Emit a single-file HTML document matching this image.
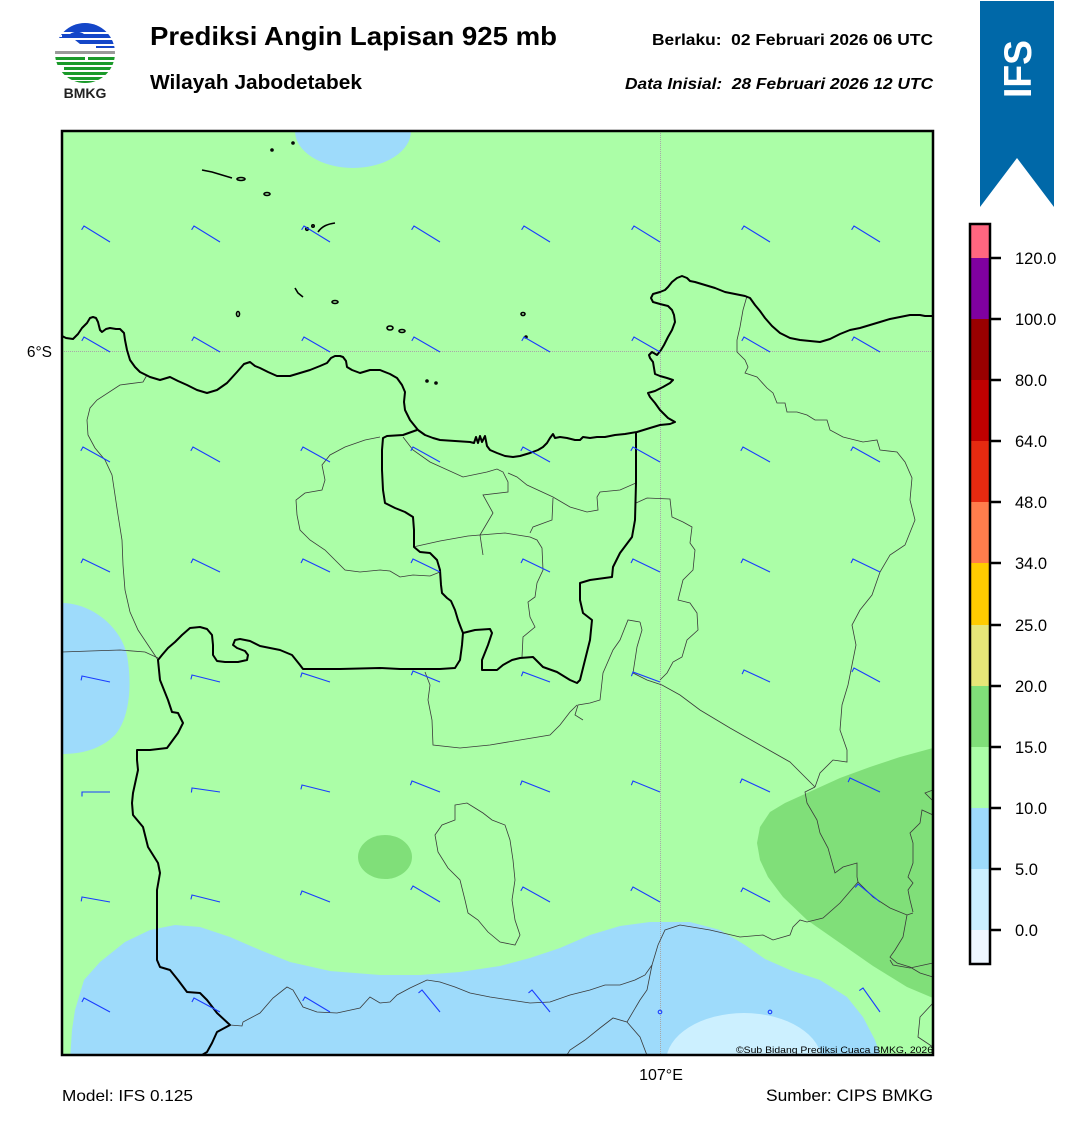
<!DOCTYPE html>
<html><head><meta charset="utf-8"><style>
html,body{margin:0;padding:0;background:#fff;}
svg{display:block;font-family:"Liberation Sans",Arial,sans-serif;}
</style></head><body>
<svg width="1081" height="1128" viewBox="0 0 1081 1128" xmlns="http://www.w3.org/2000/svg">
<defs>
<clipPath id="mapclip"><rect x="62" y="131" width="871" height="924"/></clipPath>
<clipPath id="logoclip"><circle cx="85" cy="53" r="30"/></clipPath>
</defs>

<!-- Logo -->
<g clip-path="url(#logoclip)">
<rect x="55" y="23" width="60" height="60" fill="#fff"/>
<rect x="55" y="22" width="60" height="10" fill="#1446c8"/>
<path d="M55,34 L70,34 C74,31 80,31 84,34 L115,34 L115,38 L55,38 Z" fill="#1446c8"/>
<path d="M55,35 L62,35 L62,37 L55,37 Z" fill="#fff"/>
<path d="M75,40 L115,40 L115,44 L80,44 Z" fill="#1446c8"/>
<rect x="96" y="46" width="19" height="2" fill="#1446c8"/>
<rect x="55" y="51" width="60" height="3" fill="#9a9a9a"/>
<rect x="55" y="57" width="30" height="3" fill="#1a9a2a"/>
<rect x="88" y="57" width="27" height="3" fill="#1a9a2a"/>
<rect x="55" y="62" width="60" height="3" fill="#1a9a2a"/>
<rect x="64" y="67" width="51" height="3" fill="#1a9a2a"/>
<rect x="55" y="72" width="60" height="3" fill="#1a9a2a"/>
<rect x="66" y="77" width="49" height="3" fill="#1a9a2a"/>
<rect x="70" y="81" width="40" height="3" fill="#1a9a2a"/>
</g>
<text x="85" y="98" font-size="14" font-weight="bold" text-anchor="middle" fill="#222">BMKG</text>

<!-- Titles -->
<text x="150" y="45" font-size="26" font-weight="bold" fill="#000" textLength="407" lengthAdjust="spacingAndGlyphs">Prediksi Angin Lapisan 925 mb</text>
<text x="150" y="89" font-size="20" font-weight="bold" fill="#000" textLength="212" lengthAdjust="spacingAndGlyphs">Wilayah Jabodetabek</text>
<text x="652" y="45" font-size="15.5" font-weight="bold" fill="#000" textLength="281" lengthAdjust="spacingAndGlyphs" xml:space="preserve">Berlaku:  02 Februari 2026 06 UTC</text>
<text x="625" y="89" font-size="15.5" font-weight="bold" font-style="italic" fill="#000" textLength="308" lengthAdjust="spacingAndGlyphs" xml:space="preserve">Data Inisial:  28 Februari 2026 12 UTC</text>

<!-- IFS banner -->
<polygon points="980,1 1054,1 1054,207 1017,158 980,207" fill="#0068a8"/>
<text transform="translate(1031,69) rotate(-90)" x="0" y="0" font-size="39" font-weight="bold" fill="#fff" text-anchor="middle" textLength="58" lengthAdjust="spacingAndGlyphs">IFS</text>

<!-- Map -->
<g clip-path="url(#mapclip)">
<rect x="62" y="131" width="871" height="924" fill="#abfea7"/>
<ellipse cx="353" cy="131" rx="58" ry="37" fill="#9edbfb"/>
<path d="M62,603 C90,603 120,625 127,655 C133,690 128,720 115,735 C100,750 80,754 62,754 Z" fill="#9edbfb"/>
<path d="M70,1060 L72,1030 L75,1010 L84,980 L100,962 L125,942 L150,930 L175,925 L200,927 L230,937 L260,950 L290,962 L330,971 L380,975 L420,975 L460,972 L500,966 L530,958 L560,948 L590,935 L620,926 L650,922 L690,922 L720,930 L745,945 L765,959 L790,970 L820,980 L847,997 L863,1017 L875,1040 L882,1060 Z" fill="#9edbfb"/>
<ellipse cx="744" cy="1062" rx="78" ry="49" fill="#ccf0ff"/>
<path d="M933,748 L900,757 L870,767 L840,778 L807,793 L785,803 L770,812 L760,827 L757,843 L760,860 L768,877 L783,897 L807,920 L840,943 L873,966 L907,987 L933,998 Z" fill="#80df79"/>
<ellipse cx="385" cy="857" rx="27" ry="22" fill="#80df79"/>

<!-- grid -->
<line x1="660.5" y1="131" x2="660.5" y2="1055" stroke="#a8a8a8" stroke-width="1" stroke-dasharray="1,1"/>
<line x1="62" y1="351.5" x2="933" y2="351.5" stroke="#a8a8a8" stroke-width="1" stroke-dasharray="1,1"/>

<!-- thin district boundaries -->
<g fill="none" stroke="#3a3a3a" stroke-width="0.8">
<path d="M147,375 L143,382 L120,385 L97,400 L90,408 L87,420 L88,435 L95,448 L105,460 L112,475 L115,495 L118,515 L122,540 L123,565 L125,590 L130,612 L138,630 L148,645 L158,660"/>
<path d="M62,652 L90,651 L120,650 L145,652 L158,658"/>
<path d="M380,437 L365,440 L345,447 L330,455 L322,465 L325,480 L322,490 L305,493 L296,500 L297,515 L300,530 L310,540 L325,550 L335,560 L345,570 L360,572 L380,570 L390,571 L400,577 L413,575 L430,576 L440,572"/>
<path d="M403,437 L413,450 L430,462 L463,477 L487,472 L497,469 L503,472 L508,482 L508,492 L483,495 L493,513 L480,535 L483,555"/>
<path d="M480,535 L468,536 L440,541 L413,547"/>
<path d="M480,535 L505,533 L530,537 L537,540 L542,548 L543,570 L537,583 L535,597 L528,602 L530,617 L535,627 L523,637 L522,657"/>
<path d="M508,473 L517,477 L527,485 L553,497 L570,507 L587,512 L598,510 L597,497 L600,492 L620,490 L636,483"/>
<path d="M553,498 L552,520 L533,527 L530,533"/>
<path d="M636,503 L647,498 L670,499 L672,517 L683,522 L692,527 L690,543 L695,550 L693,570 L683,580 L678,600 L690,603 L697,613 L698,630 L687,640 L682,657 L673,662 L667,673 L660,680"/>
<path d="M640,622 L628,620 L620,640 L613,650 L603,673 L600,700 L590,703 L578,705 L575,715 L583,720"/>
<path d="M640,622 L642,630 L637,647 L633,673 L647,680 L662,685 L680,695 L700,710 L730,728 L760,745 L790,762 L815,787"/>
<path d="M425,672 L430,685 L428,700 L432,720 L433,745 L460,748 L490,745 L520,740 L550,735 L560,725 L570,712 L577,705"/>
<path d="M455,805 L467,803 L475,808 L483,813 L492,820 L505,825 L510,840 L513,860 L515,880 L512,900 L515,920 L520,935 L515,945 L500,942 L488,932 L478,920 L468,913 L465,900 L460,880 L448,868 L438,852 L435,835 L442,825 L455,820 Z"/>
<path d="M747,296 L743,310 L740,327 L737,340 L737,352 L745,360 L748,367 L745,373 L757,377 L767,388 L773,393 L777,403 L785,403 L787,412 L797,412 L807,415 L815,420 L827,420 L830,430 L843,437 L863,442 L877,440 L880,450 L897,452 L905,462 L912,478 L910,500 L915,520 L905,545 L890,555 L880,572 L872,595 L860,610 L852,625 L856,645 L852,665 L848,685 L842,705 L840,730 L847,750 L847,762 L833,760 L820,773 L815,787"/>
<path d="M815,787 L805,792 L807,803 L817,820 L820,833 L828,848 L835,873 L843,867 L857,863 L857,877 L858,882 L873,897 L890,908 L907,915 L913,913"/>
<path d="M858,882 L840,903 L823,918 L807,922 L800,920 L793,927 L790,935 L773,940 L763,935 L740,937 L710,930 L680,925 L665,930 L658,945 L652,965 L647,990 L640,1000 L627,1022 L613,1018 L600,1028 L585,1040 L570,1050 L565,1058"/>
<path d="M627,1022 L640,1037 L648,1058"/>
<path d="M907,915 L903,937 L895,950 L890,957 L897,963 L910,967 L920,973 L933,977"/>
<path d="M933,815 L922,810 L920,823 L910,833 L913,843 L913,863 L908,877 L913,883 L908,890 L910,900 L913,912"/>
<path d="M933,790 L925,793 L932,800"/>
<path d="M230,1025 L242,1026 L243,1022 L260,1013 L273,998 L287,987 L293,990 L303,1007 L317,1012 L337,1013 L360,1008 L370,997 L380,1003 L390,1002 L397,995 L410,988 L427,980 L440,982 L455,987 L470,993 L490,997 L510,1000 L530,1003 L550,1002 L570,995 L590,990 L605,985 L620,985 L635,980 L645,975 L652,965"/>
<path d="M890,960 L893,965 L910,968 L933,963"/>
<path d="M933,1003 L920,1017 L918,1037 L933,1047"/>
</g>

<!-- thick coast & province -->
<g fill="none" stroke="#000" stroke-width="2" stroke-linejoin="round">
<path d="M60,335 L66,338 L73,339 L78,334 L82,328 L87,323 L90,318 L93,317 L96,318 L98,322 L100,330 L102,332 L106,329 L110,328 L116,329 L120,329 L124,333 L125,340 L127,350 L130,360 L135,367 L140,372 L150,377 L160,380 L170,377 L178,381 L187,385 L197,390 L207,393 L217,390 L227,383 L237,372 L244,364 L250,362 L255,366 L260,368 L268,372 L277,376 L290,376 L300,373 L310,370 L320,366 L327,363 L331,358 L335,356 L340,356 L343,357 L346,361 L347,367 L352,370 L360,373 L370,370 L380,370 L390,374 L397,378 L402,385 L405,392 L404,402 L405,410 L410,420 L414,425 L418,430 L425,435 L433,438 L440,440 L455,441 L470,442 L474,443 L476,437 L478,443 L480,436 L482,442 L485,436 L487,446 L490,450 L497,453 L505,456 L513,457 L520,456 L530,453 L538,450 L543,447 L547,443 L550,438 L553,434 L555,438 L560,437 L567,438 L575,440 L580,440 L583,437 L590,438 L597,437 L605,437 L615,435 L625,434 L637,432 L650,428 L660,425 L670,424 L675,422 L668,418 L660,410 L655,403 L650,397 L648,393 L655,391 L663,387 L670,383 L673,380 L667,378 L660,376 L655,374 L654,368 L653,362 L650,358 L649,355 L652,352 L657,355 L661,350 L664,345 L668,337 L672,330 L675,322 L674,315 L672,310 L668,306 L660,304 L653,302 L651,298 L653,294 L660,292 L665,290 L668,287 L672,282 L677,278 L682,276 L687,278 L690,281 L695,282 L705,285 L715,288 L725,292 L735,294 L745,296 L750,298 L755,305 L760,311 L765,318 L772,326 L780,333 L790,338 L800,340 L810,341 L820,342 L830,339 L840,334 L850,330 L860,328 L870,325 L880,322 L890,319 L900,317 L910,315 L920,315 L925,316 L935,316"/>
<path d="M417,430 L403,435 L387,436 L383,438 L382,450 L382,470 L383,490 L385,503 L395,508 L405,512 L413,517 L414,530 L414,547 L420,552 L430,553 L437,560 L440,570 L441,585 L442,593 L447,598 L451,601 L455,610 L458,620 L461,628 L463,633 L462,645 L460,660 L455,668 L440,669 L400,669 L380,668 L340,669 L310,669 L303,669 L300,665 L296,660 L292,655 L280,650 L270,648 L260,646 L250,641 L240,639 L235,640 L233,645 L237,648 L245,651 L248,655 L247,660 L238,662 L225,662 L217,661 L213,655 L213,645 L212,635 L207,629 L200,627 L190,628 L182,635 L175,642 L168,648 L162,655 L158,660 L160,680 L168,700 L172,712 L178,713 L183,723 L178,733 L167,748 L150,750 L137,750 L137,760 L138,770 L133,793 L132,803 L133,815 L143,827 L148,847 L158,863 L160,873 L157,890 L157,920 L157,940 L157,960 L160,967 L170,970 L178,980 L187,992 L200,993 L207,1000 L217,1013 L230,1025 L217,1032 L212,1043 L207,1052 L197,1058"/>
<path d="M463,633 L475,630 L490,629 L492,633 L488,645 L482,660 L482,670 L497,670 L503,665 L512,660 L520,658 L533,657 L543,667 L557,672 L570,680 L577,683 L580,680 L585,660 L590,640 L592,620 L583,613 L580,600 L580,583 L590,580 L612,577 L613,567 L620,553 L632,537 L635,520 L636,483 L636,433"/>
</g>

<!-- islands -->
<g fill="none" stroke="#000" stroke-width="1.6">
<circle cx="272" cy="150" r="1"/>
<circle cx="293" cy="143" r="1"/>
<path d="M202,170 L212,172 L222,175 L232,178"/>
<ellipse cx="241" cy="179" rx="4" ry="1.5"/>
<ellipse cx="267" cy="194" rx="3" ry="1.5"/>
<circle cx="307" cy="229" r="1.3"/>
<path d="M318,232 C322,226 328,224 335,223"/>
<circle cx="313" cy="226" r="1.2"/>
<path d="M295,288 L298,293 L303,297"/>
<ellipse cx="335" cy="302" rx="3" ry="1.5"/>
<ellipse cx="238" cy="314" rx="1.5" ry="2.5"/>
<ellipse cx="390" cy="328" rx="3" ry="2"/>
<ellipse cx="402" cy="331" rx="3" ry="1.5"/>
<ellipse cx="523" cy="314" rx="2" ry="1.5"/>
<circle cx="526" cy="337" r="1"/>
<circle cx="427" cy="381" r="1"/>
<circle cx="436" cy="383" r="1"/>
</g>

<!-- wind barbs -->
<g fill="none" stroke="#1a3cff" stroke-width="1.1">
<path d="M81.6,229.8 L84,226 L110,242 M191.6,229.8 L194,226 L220,242 M301.6,229.8 L304,226 L330,242 M411.6,229.8 L414,226 L440,242 M521.6,229.8 L524,226 L550,242 M631.6,229.8 L634,226 L660,242 M741.6,229.8 L744,226 L770,242 M851.6,229.8 L854,226 L880,242"/>
<path d="M81.8,340.9 L84,337 L110,352 M191.8,340.9 L194,337 L220,352 M301.8,340.9 L304,337 L330,352 M411.8,340.9 L414,337 L440,352 M521.8,340.9 L524,337 L550,352 M631.8,340.9 L634,337 L660,352 M741.8,340.9 L744,337 L770,352 M851.8,340.9 L854,337 L880,352"/>
<path d="M80.8,450.9 L83,447 L110,462 M190.8,450.9 L193,447 L220,462 M300.8,450.9 L303,447 L330,462 M410.8,450.9 L413,447 L440,462 M520.8,450.9 L523,447 L550,462 M630.8,450.9 L633,447 L660,462 M740.8,450.9 L743,447 L770,462 M850.8,450.9 L853,447 L880,462"/>
<path d="M81,563 L83,559 L110,572 M191,563 L193,559 L220,572 M301,563 L303,559 L330,572 M411,563 L413,559 L440,572 M521,563 L523,559 L550,572 M631,563 L633,559 L660,572 M741,563 L743,559 L770,572 M851,563 L853,559 L880,572"/>
<path d="M81.1,680.4 L82,676 L110,682 M190.9,679.4 L192,675 L220,682 M300.6,677.3 L302,673 L330,682 M411.3,675.2 L413,671 L440,682 M521.4,676.2 L523,672 L550,682 M631.4,676.2 L633,672 L660,682 M742.1,674.1 L744,670 L770,682 M851.9,672 L854,668 L880,682"/>
<path d="M82,796.5 L82,792 L110,792 M191.4,792.5 L192,788 L220,792 M300.9,789.4 L302,785 L330,792 M410.4,785.2 L412,781 L440,792 M520.4,785.2 L522,781 L550,792 M631.3,785.2 L633,781 L660,792 M740.1,783.1 L742,779 L770,792 M848.1,782.1 L850,778 L880,792"/>
<path d="M81.2,901.4 L82,897 L110,902 M190.9,899.4 L192,895 L220,902 M300.4,895.2 L302,891 L330,902 M410.7,889.9 L413,886 L440,902 M520.8,890.9 L523,887 L550,902 M630.8,890.9 L633,887 L660,902 M740.9,892 L743,888 L770,902 M855.2,887.5 L858,884 L880,902"/>
<path d="M81.9,1002 L84,998 L110,1012 M191.9,1002 L194,998 L220,1012 M302.7,1000.9 L305,997 L330,1012 M418.5,992.9 L422,990 L440,1012 M528.5,992.9 L532,990 L550,1012 M859.3,990.6 L863,988 L880,1012"/>
<circle cx="660" cy="1012" r="1.8"/>
<circle cx="770" cy="1012" r="1.8"/>
</g>

<text x="933" y="1053" font-size="9.5" fill="#000" text-anchor="end" textLength="197" lengthAdjust="spacingAndGlyphs">©Sub Bidang Prediksi Cuaca BMKG, 2026</text>
</g>
<rect x="62" y="131" width="871" height="924" fill="none" stroke="#000" stroke-width="2.5"/>

<!-- axis labels -->
<text x="52" y="357" font-size="15.5" fill="#000" text-anchor="end">6°S</text>
<text x="661" y="1080" font-size="16" fill="#000" text-anchor="middle">107°E</text>
<text x="62" y="1101" font-size="16" fill="#000" textLength="131" lengthAdjust="spacingAndGlyphs">Model: IFS 0.125</text>
<text x="933" y="1101" font-size="16.5" fill="#000" text-anchor="end" textLength="167" lengthAdjust="spacingAndGlyphs">Sumber: CIPS BMKG</text>

<!-- colorbar -->
<g>
<rect x="970" y="224" width="20" height="34" fill="#ff6680"/>
<rect x="970" y="258" width="20" height="61" fill="#7f00a0"/>
<rect x="970" y="319" width="20" height="61" fill="#990000"/>
<rect x="970" y="380" width="20" height="61" fill="#c00000"/>
<rect x="970" y="441" width="20" height="61" fill="#e62a10"/>
<rect x="970" y="502" width="20" height="61" fill="#ff7d4c"/>
<rect x="970" y="563" width="20" height="62" fill="#ffcc00"/>
<rect x="970" y="625" width="20" height="61" fill="#e6e678"/>
<rect x="970" y="686" width="20" height="61" fill="#80df79"/>
<rect x="970" y="747" width="20" height="61" fill="#abfea7"/>
<rect x="970" y="808" width="20" height="61" fill="#9edbfb"/>
<rect x="970" y="869" width="20" height="61" fill="#ccf0ff"/>
<rect x="970" y="930" width="20" height="34" fill="#eef6ff"/>
<rect x="970" y="224" width="20" height="740" fill="none" stroke="#000" stroke-width="2.5"/>
<g stroke="#000" stroke-width="2.5">
<line x1="990" y1="258" x2="1001" y2="258"/>
<line x1="990" y1="319" x2="1001" y2="319"/>
<line x1="990" y1="380" x2="1001" y2="380"/>
<line x1="990" y1="441" x2="1001" y2="441"/>
<line x1="990" y1="502" x2="1001" y2="502"/>
<line x1="990" y1="563" x2="1001" y2="563"/>
<line x1="990" y1="625" x2="1001" y2="625"/>
<line x1="990" y1="686" x2="1001" y2="686"/>
<line x1="990" y1="747" x2="1001" y2="747"/>
<line x1="990" y1="808" x2="1001" y2="808"/>
<line x1="990" y1="869" x2="1001" y2="869"/>
<line x1="990" y1="930" x2="1001" y2="930"/>
</g>
<g font-size="16.5" fill="#000">
<text x="1015" y="264">120.0</text>
<text x="1015" y="325">100.0</text>
<text x="1015" y="386">80.0</text>
<text x="1015" y="447">64.0</text>
<text x="1015" y="508">48.0</text>
<text x="1015" y="569">34.0</text>
<text x="1015" y="631">25.0</text>
<text x="1015" y="692">20.0</text>
<text x="1015" y="753">15.0</text>
<text x="1015" y="814">10.0</text>
<text x="1015" y="875">5.0</text>
<text x="1015" y="936">0.0</text>
</g>
</g>
</svg>
</body></html>
